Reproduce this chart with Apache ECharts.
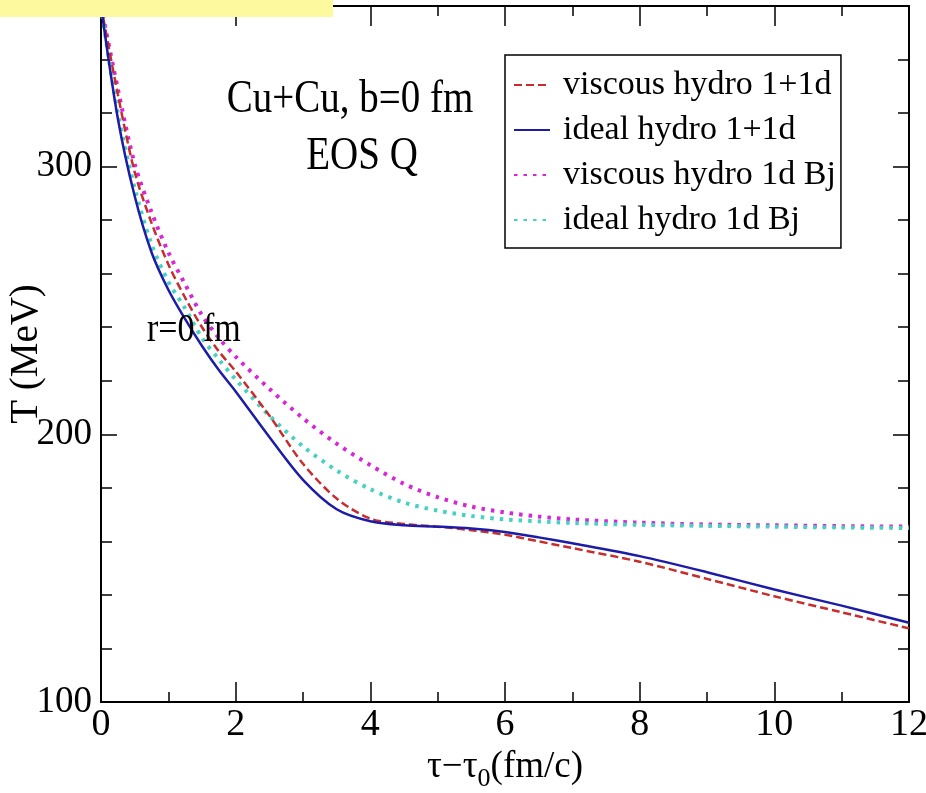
<!DOCTYPE html>
<html>
<head>
<meta charset="utf-8">
<script src="https://cdn.jsdelivr.net/npm/echarts@6/dist/echarts.min.js"></script>
<style>
  html, body { margin: 0; padding: 0; background: #fff; }
  #main { width: 926px; height: 793px; }
</style>
</head>
<body>
<div id="main"></div>
<script>
// tau - tau0 (fm/c)
var tauValues = [0, 0.25, 0.5, 0.75, 1, 1.25, 1.5, 1.75, 2, 2.5, 3, 3.5, 4, 4.5, 5, 5.5, 6, 6.5, 7, 8, 9, 10, 11, 12];
// T (MeV)
var viscous11d = [360, 327, 298, 279, 263.5, 251, 240, 231, 223.5, 207, 189, 176, 168.5, 166.5, 165.5, 164.2, 162.5, 160, 157.5, 152.4, 146, 139.5, 133.5, 127.5];
var ideal11d   = [360, 318, 289, 268, 254, 243, 233, 224, 216, 199, 183, 172, 167.5, 166, 165.5, 164.8, 163.5, 161.5, 159.3, 154.5, 148.5, 142, 136, 129.6];
var viscousBj  = [360, 329, 301, 283, 268, 256, 244.5, 236, 229, 217, 206, 196.5, 188.5, 181.5, 176.5, 173, 170.8, 169.3, 168.2, 167, 166.3, 166, 165.7, 165.5];
var idealBj    = [360, 320, 292, 271, 257, 247, 236, 228, 220.5, 207, 195.5, 186.5, 179.5, 174.5, 171.5, 169.5, 168.2, 167.5, 166.9, 166.2, 165.8, 165.5, 165.2, 165];

var seriesNames = ['viscous hydro 1+1d', 'ideal hydro 1+1d', 'viscous hydro 1d Bj', 'ideal hydro 1d Bj'];
var xTicks = [0, 2, 4, 6, 8, 10, 12];
var yTicks = [100, 200, 300];

function pairs(ys) {
  return tauValues.map(function (t, i) { return [t, ys[i]]; });
}

var chart = echarts.init(document.getElementById('main'));
var serif = 'Liberation Serif';

function xAx(pos, show) {
  return {
    type: 'value', position: pos, min: 0, max: 12, interval: 2,
    axisLine: { show: true, onZero: false, lineStyle: { color: '#000', width: 2 } },
    axisTick: { show: true, inside: true, length: 20, lineStyle: { color: '#000', width: 1.5 } },
    minorTick: { show: true, splitNumber: 2, length: 10, lineStyle: { color: '#000', width: 1.5 } },
    splitLine: { show: false },
    axisLabel: {
      show: show, margin: 4, color: '#000', fontFamily: serif, fontSize: 38,
      formatter: function (v) { return xTicks.indexOf(v) >= 0 ? String(v) : ''; }
    },
    name: show ? '{a|τ−τ}{s|0}{a|(fm/c)}' : '',
    nameLocation: 'middle', nameGap: 40, nameMoveOverlap: false,
    nameTextStyle: {
      rich: {
        a: { fontFamily: serif, fontSize: 37, color: '#000' },
        s: { fontFamily: serif, fontSize: 26, color: '#000', padding: [24, 0, 0, 0] }
      }
    }
  };
}

function yAx(pos, show, minor) {
  return {
    type: 'value', position: pos, min: 100, max: 360, interval: minor ? 20 : 100,
    axisLine: { show: !minor, onZero: false, lineStyle: { color: '#000', width: 2 } },
    axisTick: { show: true, inside: true, length: minor ? 11 : 16, lineStyle: { color: '#000', width: 1.5 } },
    splitLine: { show: false },
    axisLabel: {
      show: show, margin: 9, color: '#000', fontFamily: serif, fontSize: 37,
      showMaxLabel: false,
      formatter: function (v) { return yTicks.indexOf(v) >= 0 ? String(v) : ''; }
    },
    name: show ? 'T (MeV)' : '',
    nameLocation: 'middle', nameGap: 55, nameMoveOverlap: false,
    nameTextStyle: { fontFamily: serif, fontSize: 39, color: '#000' }
  };
}

var option = {
  animation: false,
  backgroundColor: '#fff',
  grid: { left: 101, right: 17, top: 6, bottom: 91, containLabel: false, outerBoundsMode: 'none' },
  xAxis: [xAx('bottom', true), xAx('top', false)],
  yAxis: [yAx('left', true, false), yAx('left', false, true), yAx('right', false, false), yAx('right', false, true)],
  legend: {
    data: seriesNames,
    orient: 'vertical',
    left: 505, top: 55,
    padding: [12, 5, 10, 8],
    itemGap: 9,
    itemWidth: 36, itemHeight: 14,
    borderColor: '#000', borderWidth: 1.5,
    backgroundColor: '#fff',
    itemStyle: { opacity: 0 },
    textStyle: { fontFamily: serif, fontSize: 34, color: '#000', lineHeight: 36, padding: [0, 0, 0, 8] }
  },
  graphic: [
    { type: 'rect', left: 0, top: 0, z: 100, shape: { width: 333, height: 17 }, style: { fill: '#fdf99e' } },
    { type: 'text', x: 350, y: 100, scaleY: 1.2, z: 50,
      style: { text: 'Cu+Cu, b=0 fm', font: '39px "Liberation Serif"', fill: '#000', textAlign: 'center', textVerticalAlign: 'middle' } },
    { type: 'text', x: 362, y: 157, scaleY: 1.2, z: 50,
      style: { text: 'EOS Q', font: '39px "Liberation Serif"', fill: '#000', textAlign: 'center', textVerticalAlign: 'middle' } },
    { type: 'text', x: 147, y: 330, scaleY: 1.2, z: 50,
      style: { text: 'r=0 fm', font: '34px "Liberation Serif"', fill: '#000', textAlign: 'left', textVerticalAlign: 'middle' } }
  ],
  series: [
    {
      name: seriesNames[0], type: 'line', data: pairs(viscous11d), symbol: 'none',
      smooth: 0.3, z: 3,
      lineStyle: { color: '#c82c2c', width: 2.5, type: [8, 4] }, itemStyle: { color: '#c82c2c' }
    },
    {
      name: seriesNames[1], type: 'line', data: pairs(ideal11d), symbol: 'none',
      smooth: 0.3, z: 4,
      lineStyle: { color: '#1c1ca8', width: 2.5, type: 'solid' }, itemStyle: { color: '#1c1ca8' }
    },
    {
      name: seriesNames[2], type: 'line', data: pairs(viscousBj), symbol: 'none',
      smooth: 0.3, z: 2,
      lineStyle: { color: '#d726d7', width: 4, type: [3.5, 6] }, itemStyle: { color: '#d726d7' }
    },
    {
      name: seriesNames[3], type: 'line', data: pairs(idealBj), symbol: 'none',
      smooth: 0.3, z: 2,
      lineStyle: { color: '#45d2c2', width: 4, type: [3.5, 6] }, itemStyle: { color: '#45d2c2' }
    }
  ]
};
chart.setOption(option);
</script>
</body>
</html>
